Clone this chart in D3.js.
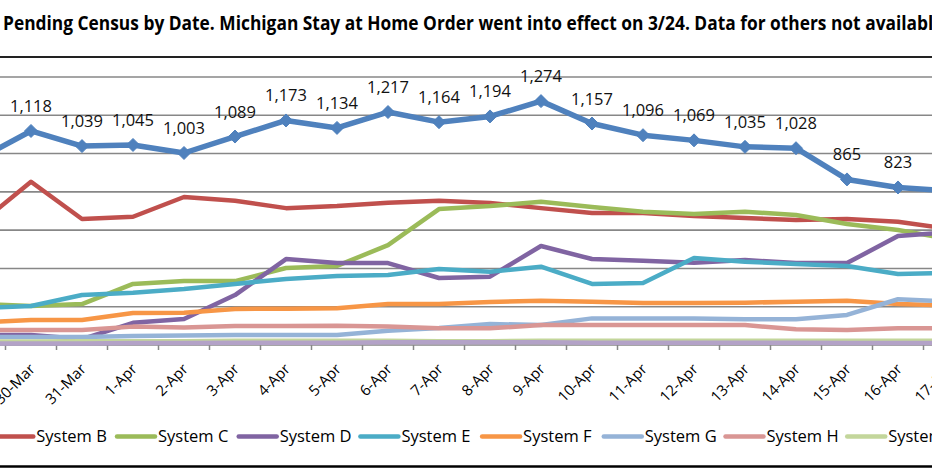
<!DOCTYPE html>
<html><head><meta charset="utf-8">
<script src="https://cdn.jsdelivr.net/npm/d3@7"></script>
<style>body{margin:0;background:#fff} svg{display:block}</style>
</head><body><svg id="c" width="932" height="470"></svg>
<script>
// ---- data ----
const dates = ["29-Mar","30-Mar","31-Mar","1-Apr","2-Apr","3-Apr","4-Apr","5-Apr","6-Apr","7-Apr","8-Apr","9-Apr","10-Apr","11-Apr","12-Apr","13-Apr","14-Apr","15-Apr","16-Apr","17-Apr"];
const seriesNames = ["System A","System B","System C","System D","System E","System F","System G","System H","System I","System J"];
const systemA = [975,1118,1039,1045,1003,1089,1173,1134,1217,1164,1194,1274,1157,1096,1069,1035,1028,865,823,805];
const systemB = [635,853,658,670,773,754,715,726,743,754,742,715,689,689,674,663,653,658,644,606];
const systemC = [214,204,214,319,334,334,402,413,522,710,726,748,721,696,684,696,679,632,601,554];
const systemD = [52,52,31,116,136,261,449,428,428,350,357,517,449,440,430,444,428,428,569,590];
const systemE = [193,204,261,273,292,319,345,360,366,397,383,409,319,324,454,435,423,413,371,376];
const systemF = [117,131,131,167,169,188,190,192,214,214,225,231,226,219,219,221,226,231,214,206];
const systemG = [42,42,42,47,50,52,52,52,75,89,110,104,139,139,139,134,134,157,239,227];
const systemH = [78,78,78,96,92,99,99,101,96,87,87,104,104,104,104,104,82,78,87,87];
const systemI = [18,18,20,20,20,22,22,22,22,20,20,22,22,22,22,22,22,22,22,22];
const systemJ = [8,8,8,10,10,12,12,12,14,14,14,14,12,12,12,12,12,10,10,10];
const yTicks = [200,400,600,800,1000,1200,1400];
const titleText = "Pending Census by Date. Michigan Stay at Home Order went into effect on 3/24. Data for others not available.";

const allSeries = [systemA,systemB,systemC,systemD,systemE,systemF,systemG,systemH,systemI,systemJ];
const colors = ["#4F81BD","#C0504D","#9BBB59","#8064A2","#4BACC6","#F79646","#95B3D7","#D99694","#C3D69B","#B3A2C7"];

const W = 932, H = 470;
const svg = d3.select("#c");
svg.append("rect").attr("width",W).attr("height",H).attr("fill","#fff");
const font = "'Open Sans', 'Noto Sans', sans-serif";

// scales
const x = d3.scaleBand().domain(dates).range([-45.5, 974.5]).paddingInner(0).paddingOuter(0);
const cx = d => x(d) + x.bandwidth()/2;
const y = d3.scaleLinear().domain([0,1400]).range([345,77]);

// title
const probe = svg.append("text").style("font-family",font).style("font-weight","bold").style("font-size","20px")
  .text("Pending Census by Date. Michigan Stay at Home Orde");
const k = 463 / probe.node().getComputedTextLength();
probe.remove();
const t = svg.append("text").attr("x",3).attr("y",30).style("font-family",font).style("font-weight","bold")
  .style("font-size","20px").attr("fill","#000").text(titleText);
t.attr("textLength", t.node().getComputedTextLength()*k).attr("lengthAdjust","spacingAndGlyphs");

// frame lines
svg.append("line").attr("x1",0).attr("x2",W).attr("y1",57).attr("y2",57).attr("stroke","#222").attr("stroke-width",2);
svg.append("line").attr("x1",0).attr("x2",W).attr("y1",466.5).attr("y2",466.5).attr("stroke","#000").attr("stroke-width",2.5);

// gridlines
svg.append("g").selectAll("line").data(yTicks).join("line")
  .attr("x1",0).attr("x2",W).attr("y1",d=>y(d)).attr("y2",d=>y(d))
  .attr("stroke","#878787").attr("stroke-width",1.6);

// x axis
const xg = svg.append("g").attr("transform",`translate(0,${y(0)})`);
xg.append("line").attr("x1",0).attr("x2",W).attr("stroke","#878787").attr("stroke-width",1.6);
xg.selectAll("line.tk").data(dates).join("line").attr("class","tk")
  .attr("x1",d=>x(d)).attr("x2",d=>x(d)).attr("y1",0).attr("y2",5).attr("stroke","#878787").attr("stroke-width",1.5);
xg.selectAll("text").data(dates).join("text")
  .attr("transform",d=>`translate(${cx(d)+5},${25}) rotate(-45)`)
  .attr("text-anchor","end").style("font-family",font).style("font-size","15px").attr("fill","#000").text(d=>d);

// lines
const plot = svg.append("g");
const line = d3.line().x((d,i)=>cx(dates[i])).y(d=>y(d));
allSeries.forEach((s,si)=>{
  plot.append("path").datum(s).attr("d",line).attr("fill","none")
    .attr("stroke",colors[si]).attr("stroke-width",si===0?5.5:4.5).attr("stroke-linejoin","round").attr("stroke-linecap","round");
});
// markers for A
plot.selectAll("path.mk").data(systemA).join("path").attr("class","mk")
  .attr("transform",(d,i)=>`translate(${cx(dates[i])},${y(d)})`)
  .attr("d","M0,-6.5L6.5,0L0,6.5L-6.5,0Z").attr("fill",colors[0]).attr("stroke",colors[0]).attr("stroke-width",1);
// data labels for A
plot.selectAll("text.lb").data(systemA).join("text").attr("class","lb")
  .attr("x",(d,i)=>cx(dates[i])).attr("y",d=>y(d)-19).attr("text-anchor","middle")
  .style("font-family",font).style("font-size","16.5px").attr("fill","#111").text(d=>d3.format(",")(d));

// legend
const lx = d3.scalePoint().domain(seriesNames).range([-126.4, -126.4 + 9*121.7]);
const lg = svg.append("g");
seriesNames.forEach((n,i)=>{
  const x0 = lx(n);
  lg.append("line").attr("x1",x0).attr("x2",x0+38).attr("y1",436.5).attr("y2",436.5)
    .attr("stroke",colors[i]).attr("stroke-width",4.5).attr("stroke-linecap","round");
  if(i===0) lg.append("path").attr("transform",`translate(${x0+19},436.5)`).attr("d","M0,-6.5L6.5,0L0,6.5L-6.5,0Z").attr("fill",colors[0]);
  lg.append("text").attr("x",x0+41).attr("y",442).style("font-family",font).style("font-size","16.5px").attr("fill","#000").text(n);
});
</script></body></html>
